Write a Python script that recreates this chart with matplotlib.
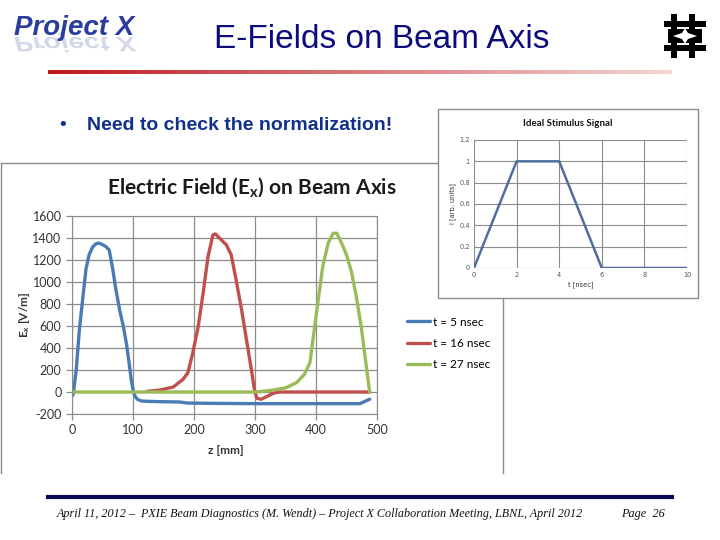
import matplotlib
matplotlib.use("Agg")
import matplotlib.pyplot as plt
import numpy as np
from matplotlib.patches import Rectangle, Polygon, PathPatch
from matplotlib.textpath import TextPath
from matplotlib.font_manager import FontProperties
from matplotlib.transforms import Affine2D

plt.rcParams['mathtext.default'] = 'regular'
plt.rcParams['axes.unicode_minus'] = False

# ---- data ----
# t = 5 nsec
z_t5 = [0, 2, 7, 12, 18, 23, 28, 34, 40, 44, 50, 56, 61, 67, 72, 78, 84, 89, 94, 97, 101, 104, 107, 114, 125,
        144, 177, 188, 226, 300, 400, 472, 480, 488]
e_t5 = [-36, -20, 205, 560, 870, 1120, 1247, 1320, 1350, 1353, 1340, 1320, 1290, 1111, 930, 749, 600, 447, 250,
        115, -6, -45, -66, -82, -85, -88, -91, -100, -103, -106, -106, -106, -85, -66]
# t = 16 nsec
z_t16 = [123, 144, 166, 182, 190, 198, 207, 215, 223, 231, 235, 242, 253, 261, 269, 278, 286, 294, 299, 303,
         310, 319, 330, 340, 362, 488]
e_t16 = [6, 18, 45, 115, 175, 356, 598, 900, 1232, 1428, 1437, 1398, 1338, 1247, 1021, 749, 477, 205, 24, -57,
         -66, -42, -12, 0, 0, 0]
# t = 27 nsec
z_t27 = [0, 300, 308, 330, 351, 368, 381, 390, 395, 403, 411, 420, 428, 434, 442, 450, 458, 466, 474, 481, 488]
e_t27 = [0, 0, 3, 18, 39, 85, 160, 266, 477, 809, 1141, 1353, 1443, 1443, 1353, 1247, 1096, 870, 598, 296, 0]

labels = ["t = 5 nsec", "t = 16 nsec", "t = 27 nsec"]
colors = ["#4a7bb5", "#c0504d", "#9bbb59"]

# ideal stimulus signal (inset)
t_stim = [0, 2, 4, 6, 8, 10]
v_stim = [0, 1, 1, 0, 0, 0]

fig = plt.figure(figsize=(7.2, 5.4), dpi=100)

# background axes in pixel coords (y down)
bg = fig.add_axes([0, 0, 1, 1], zorder=0)
bg.set_xlim(0, 720)
bg.set_ylim(540, 0)
bg.axis("off")

# header: Project X logo
bg.text(14, 35, "Project X", fontsize=20, fontweight="bold", fontstyle="italic",
        family="Liberation Sans", color="#2a3c9c", va="baseline", ha="left")
fp = FontProperties(family="Liberation Sans", weight="bold", style="italic")
tp = TextPath((0, 0), "Project X", size=28, prop=fp)
tp = Affine2D().scale(1, 0.75).translate(14, 37).transform_path(tp)
bg.add_patch(PathPatch(tp, color="#8090c0", alpha=0.35, lw=0))

# title
bg.text(382, 40, "E-Fields on Beam Axis", fontsize=24, family="Liberation Sans",
        color="#0b0b7d", ha="center", va="center")

# red gradient bar under the title
grad = np.linspace(0, 1, 256).reshape(1, -1)
cmap = matplotlib.colors.LinearSegmentedColormap.from_list("g", ["#c0161c", "#d87a7c", "#f3d4d5"])
bg.imshow(grad, extent=(48, 672, 74, 70), aspect="auto", cmap=cmap, zorder=1)

# Fermilab logo (rough)
for x0 in (671, 689):
    bg.add_patch(Rectangle((x0, 14), 6, 44, color="black", lw=0))
for y0 in (21, 45):
    bg.add_patch(Rectangle((664, y0), 42, 6, color="black", lw=0))
bg.add_patch(Rectangle((668, 29), 34, 14, color="black", lw=0))
bg.add_patch(Polygon([(685, 28), (688, 33), (697, 36), (688, 39), (685, 44), (682, 39), (673, 36), (682, 33)],
                     closed=True, color="white", lw=0))

# bullet
bg.text(63, 125, "\u2022", fontsize=14, color="#10308a", ha="center", va="center", family="Liberation Sans")
bg.text(87, 125, "Need to check the normalization!", fontsize=14, fontweight="bold",
        family="Liberation Sans", color="#10308a", ha="left", va="center")

# chart frames
frame_c = "#8c8c8c"
bg.plot([1, 1], [163, 473], color=frame_c, lw=1)
bg.plot([1, 503], [163, 163], color=frame_c, lw=1)
bg.plot([503, 503], [163, 473], color=frame_c, lw=1)
bg.add_patch(Rectangle((438, 109), 260, 189, facecolor="white", edgecolor=frame_c, lw=1, zorder=3))

# main chart title
bg.text(252, 187, "Electric Field (E$_x$) on Beam Axis", fontsize=15, fontweight="bold",
        family="Lato", color="#1a1a1a", ha="center", va="center")
bg.text(226, 451, "z [mm]", fontsize=8.5, fontweight="bold", family="Lato", color="#333333",
        ha="center", va="center")
bg.text(24, 315, "E$_x$ [V/m]", fontsize=8.5, fontweight="bold", family="Lato", color="#333333",
        ha="center", va="center", rotation=90)

# footer
bg.plot([48, 672], [497, 497], color="#0a0a5a", lw=3)
bg.text(57, 514, "April 11, 2012 \u2013  PXIE Beam Diagnostics (M. Wendt) \u2013 Project X Collaboration Meeting, LBNL, April 2012",
        fontsize=8.7, fontstyle="italic", family="Liberation Serif", color="#111111", ha="left", va="center")
bg.text(621, 514, "Page  26", fontsize=8.8, fontstyle="italic", family="Liberation Serif", color="#111111",
        ha="left", va="center")

# ---- main chart ----
ax = fig.add_axes([72 / 720, 1 - 414 / 540, 305 / 720, 198 / 540], zorder=2)
for z, e, lab, c in zip([z_t5, z_t16, z_t27], [e_t5, e_t16, e_t27], labels, colors):
    ax.plot(z, e, color=c, lw=2.4, label=lab, solid_capstyle="round", solid_joinstyle="round")
ax.set_xlim(0, 500)
ax.set_ylim(-200, 1600)
ax.set_xticks(np.arange(0, 501, 100))
ax.set_yticks(np.arange(-200, 1601, 200))
ax.grid(True, color="#8c8c8c", lw=0.9)
ax.set_axisbelow(True)
for s in ax.spines.values():
    s.set_color("#8c8c8c")
ax.tick_params(colors="#8c8c8c", labelcolor="#333333", labelsize=9, length=4, width=0.9)
for t in ax.get_xticklabels() + ax.get_yticklabels():
    t.set_family("Lato")
ax.legend(loc="upper left", bbox_to_anchor=(396 / 720, 1 - 306 / 540), bbox_transform=fig.transFigure,
          frameon=False, handlelength=2.0, handletextpad=0.2, labelspacing=0.85,
          prop={"family": "Lato", "size": 8.5})

# ---- inset ----
ins = fig.add_axes([474 / 720, 1 - 268 / 540, 213 / 720, 128 / 540], zorder=4)
ins.plot(t_stim, v_stim, color="#4f6f9f", lw=1.8)
ins.set_xlim(0, 10)
ins.set_ylim(0, 1.2)
ins.set_xticks(np.arange(0, 11, 2))
ins.set_yticks(np.arange(0, 1.21, 0.2))
ins.set_yticklabels(["0", "0.2", "0.4", "0.6", "0.8", "1", "1.2"])
ins.grid(True, color="#8c8c8c", lw=0.8)
for s in ins.spines.values():
    s.set_visible(False)
ins.tick_params(colors="#999999", labelcolor="#555555", labelsize=4.8, length=0, pad=3)
ins.set_xlabel("t [nsec]", fontsize=4.8, color="#333333", labelpad=2)
ins.set_ylabel("I [arb. units]", fontsize=4.8, color="#333333", labelpad=2)
bg.text(568, 124, "Ideal Stimulus Signal", fontsize=7, fontweight="bold", family="Lato",
        color="#111111", ha="center", va="center", zorder=5)

fig.savefig("out.png", dpi=100)
